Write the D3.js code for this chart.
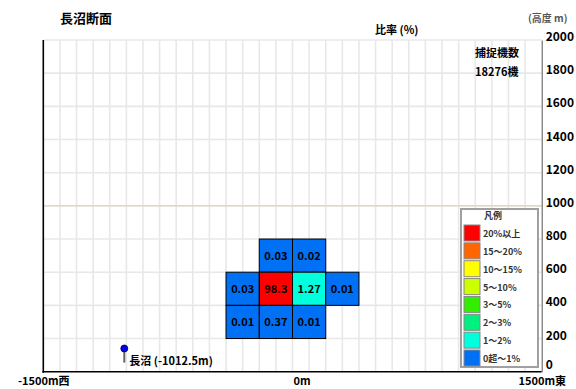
<!DOCTYPE html>
<html><head><meta charset="utf-8">
<script src="https://cdn.jsdelivr.net/npm/d3@7"></script>
<style>
body{margin:0;background:#fff;}
text{font-family:"Noto Sans CJK JP","Noto Sans",sans-serif;font-weight:bold;}
</style></head>
<body><svg id="c" width="576" height="389"></svg>
<script>
// ---- data ----
const cellX   = [-200, 0, -400, -200, 0, 200, -400, -200, 0];   // west edge of each 200m cell (m)
const cellAlt = [600, 600, 400, 400, 400, 400, 200, 200, 200];   // bottom altitude of each cell (m)
const cellPct = [0.03, 0.02, 0.03, 98.3, 1.27, 0.01, 0.01, 0.37, 0.01]; // share (%)
const legendLabels = ["20%以上","15～20%","10～15%","5～10%","3～5%","2～3%","1～2%","0超～1%"];
const legendMin    = [20, 15, 10, 5, 3, 2, 1, 0];
const legendColors = ["#ff0000","#ff6600","#ffff00","#ccff00","#33ee00","#00f080","#00ffdd","#0070f5"];
const yTicks = [0,200,400,600,800,1000,1200,1400,1600,1800,2000];
const xTicks = [-1500, 0, 1500];
const xTickLabels = ["-1500m西","0m","1500m東"];
const siteName = "長沼";
const siteX = -1012.5;
const total = "18276機";

const svg = d3.select("#c");
const x = d3.scaleLinear().domain([-1500,1500]).range([43.3,541.7]);
const y = d3.scaleLinear().domain([0,2000]).range([371.7,40]);
const cellW = 200, cellH = 200;

// grid
const g = svg.append("g");
g.selectAll("line.v").data(d3.range(-1400,1500,100)).join("line")
  .attr("x1",d=>x(d)).attr("x2",d=>x(d)).attr("y1",y(2000)).attr("y2",y(0))
  .attr("stroke","#e8e8e8").attr("stroke-width",1.6);
g.selectAll("line.h").data(d3.range(200,2001,200)).join("line")
  .attr("x1",x(-1500)).attr("x2",x(1500)).attr("y1",d=>y(d)).attr("y2",d=>y(d))
  .attr("stroke",d=>d===1000?"#e2d8c8":"#e8e8e8").attr("stroke-width",1.6);

// axes lines
svg.append("line").attr("x1",x(-1500)).attr("x2",x(-1500)).attr("y1",y(2000)).attr("y2",y(0)+1)
  .attr("stroke","#000").attr("stroke-width",1.6);
svg.append("line").attr("x1",x(-1500)-1).attr("x2",x(1500)).attr("y1",y(0)).attr("y2",y(0))
  .attr("stroke","#000").attr("stroke-width",1.6);

// cells
const colorOf = v => { for (let i=0;i<legendMin.length;i++) if (v>=legendMin[i] && (i<legendMin.length-1 || v>0)) return legendColors[i]; return legendColors[legendColors.length-1]; };
const cells = svg.append("g").selectAll("g").data(cellPct.map((v,i)=>({v, x0:cellX[i], a0:cellAlt[i]}))).join("g");
cells.append("rect")
  .attr("x",d=>x(d.x0)).attr("y",d=>y(d.a0+cellH))
  .attr("width",d=>x(d.x0+cellW)-x(d.x0)).attr("height",d=>y(d.a0)-y(d.a0+cellH))
  .attr("fill",d=>colorOf(d.v)).attr("stroke","#000").attr("stroke-width",1);
cells.append("text")
  .attr("x",d=>x(d.x0+cellW/2)).attr("y",d=>y(d.a0+cellH/2)+4)
  .attr("text-anchor","middle").attr("font-size",11).attr("fill","#000")
  .text(d=>d.v);

// right y axis
const ya = svg.append("g").attr("transform",`translate(${x(1500)},0)`)
  .call(d3.axisRight(y).tickValues(yTicks).tickSize(0).tickPadding(4).tickFormat(d3.format("d")));
ya.select(".domain").attr("stroke","#555").attr("stroke-width",1);
ya.selectAll("text").attr("font-size",12).attr("fill","#000")
  .attr("font-family","'Noto Sans CJK JP',sans-serif").attr("font-weight","bold")
  .attr("dy",d=>d===0?"-0.3em":"0.05em");

// bottom x labels
const xa = svg.append("g").attr("transform",`translate(0,${y(0)})`)
  .call(d3.axisBottom(x).tickValues(xTicks).tickSize(0).tickPadding(4).tickFormat((d,i)=>xTickLabels[i]));
xa.select(".domain").remove();
xa.selectAll("text").attr("font-size",11).attr("fill","#000")
  .attr("font-family","'Noto Sans CJK JP',sans-serif").attr("font-weight","bold")
  .attr("dx",(d,i)=>i===1?9:0).attr("dy","0.8em");

// texts
svg.append("text").attr("x",60).attr("y",23).attr("font-size",13).attr("fill","#000").text(siteName+"断面");
svg.append("text").attr("x",375).attr("y",34).attr("font-size",11).attr("fill","#000").text("比率 (%)");
svg.append("text").attr("x",528).attr("y",22).attr("font-size",10).attr("fill","#555").text("(高度 m)");
svg.append("text").attr("x",475).attr("y",57).attr("font-size",11).attr("fill","#000").text("捕捉機数");
svg.append("text").attr("x",475).attr("y",76).attr("font-size",11).attr("fill","#000").text(total);

// site marker
const sx = x(siteX);
svg.append("line").attr("x1",sx).attr("x2",sx).attr("y1",y(140)).attr("y2",y(55))
  .attr("stroke","#666").attr("stroke-width",2);
svg.append("circle").attr("cx",sx).attr("cy",y(140)).attr("r",3.5)
  .attr("fill","#0000ee").attr("stroke","#000033").attr("stroke-width",0.8);
svg.append("text").attr("x",sx+5).attr("y",y(55)+2).attr("font-size",11).attr("fill","#000")
  .text(`${siteName} (${siteX}m)`);

// legend
const lg = svg.append("g").attr("transform","translate(461,209)");
lg.append("rect").attr("width",77).attr("height",158).attr("fill","#fff")
  .attr("stroke","#a0a0a0").attr("stroke-width",2);
lg.append("text").attr("x",32).attr("y",10).attr("text-anchor","middle").attr("font-size",9).attr("fill","#333").text("凡例");
const li = lg.selectAll("g.i").data(legendLabels).join("g")
  .attr("transform",(d,i)=>`translate(3,${16+i*17.86})`);
li.append("rect").attr("width",16).attr("height",16).attr("fill",(d,i)=>legendColors[i])
  .attr("stroke","#888").attr("stroke-width",1);
li.append("text").attr("x",19).attr("y",12).attr("font-size",9).attr("fill","#333").text(d=>d);
</script></body></html>
